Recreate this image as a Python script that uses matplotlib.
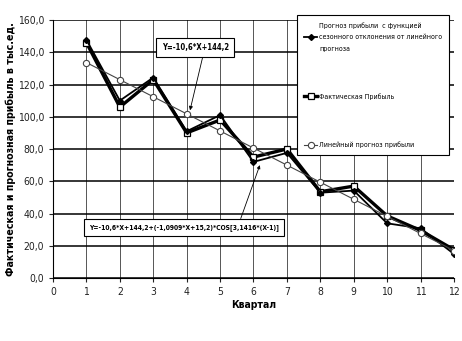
import matplotlib
matplotlib.use("Agg")
from matplotlib import pyplot as plt
from matplotlib.ticker import FuncFormatter

plt.rcParams['font.family'] = ['DejaVu Sans']
plt.rcParams['font.stretch'] = 'condensed'

quarters = [1, 2, 3, 4, 5, 6, 7, 8, 9, 10, 11, 12]
seasonal = [147.7, 110.0, 124.3, 91.0, 101.0, 72.0, 77.6, 52.9, 54.2, 33.9, 30.8, 14.9]
actual = [146.0, 106.0, 123.0, 90.0, 98.0, 75.0, 80.0, 53.5, 57.0, 38.5, 29.5, 17.5]
linear = [133.6, 123.0, 112.4, 101.8, 91.2, 80.6, 70.0, 59.4, 48.8, 38.2, 27.6, 17.0]

lbl_seasonal = "Прогноз прибыли  с функцией\nсезонного отклонения от линейного\nпрогноза"
lbl_actual = "Фактическая Прибыль"
lbl_linear = "Линейный прогноз прибыли"
eq_linear = "Y=-10,6*X+144,2"
eq_seasonal = "Y=-10,6*X+144,2+(-1,0909*X+15,2)*COS[3,1416*(X-1)]"

W, H = 462, 341
fig = plt.figure(figsize=(W / 100, H / 100), dpi=100)
ax = fig.add_axes([53 / W, 1 - 278 / H, (454 - 53) / W, (278 - 20) / H])

ax.plot(quarters, seasonal, color="black", lw=1.3, marker="D", ms=3.0,
        mfc="black", mec="black", label=lbl_seasonal, zorder=4)
ax.plot(quarters, actual, color="black", lw=2.4, marker="s", ms=4.5,
        mfc="white", mec="black", mew=0.9, label=lbl_actual, zorder=3)
ax.plot(quarters, linear, color="#444444", lw=0.8, marker="o", ms=4.5,
        mfc="white", mec="#444444", mew=0.8, label=lbl_linear, zorder=5)

ax.set_xlim(0, 12)
ax.set_ylim(0, 160)
ax.set_xticks(range(0, 13))
ax.set_yticks(range(0, 161, 20))
ax.yaxis.set_major_formatter(FuncFormatter(lambda v, p: f"{v:.1f}".replace(".", ",")))
ax.grid(True, axis="y", color="black", lw=1.1)
ax.grid(True, axis="x", color="#555555", lw=0.7)
ax.set_axisbelow(True)
for s in ax.spines.values():
    s.set_visible(False)
ax.spines["left"].set_visible(True)
ax.spines["bottom"].set_visible(True)
ax.tick_params(labelsize=7.5, length=3, direction="out", colors="#222222")

ax.set_xlabel("Квартал", fontsize=7.5, fontweight="bold", labelpad=2)
ax.set_ylabel("Фактическая и прогнозная прибыль в тыс.ед.", fontsize=7.7,
              fontweight="bold", labelpad=1)

leg = ax.legend(loc="upper left", bbox_to_anchor=(297 / W, 1 - 15 / H),
                bbox_transform=fig.transFigure, fontsize=5.0, frameon=True,
                fancybox=False, edgecolor="black", framealpha=1,
                handlelength=1.9, handletextpad=0.3, labelspacing=6.0,
                borderpad=1.0, borderaxespad=0)
for t in leg.get_texts():
    t.set_linespacing(2.1)
leg.get_frame().set_linewidth(0.8)
leg.set_zorder(10)

box = dict(boxstyle="square,pad=0.7", fc="white", ec="black", lw=0.8)
ax.annotate(eq_linear, xy=(4.1, 104), xytext=(3.25, 143), fontsize=5.5,
            fontweight="bold", bbox=box, va="center", ha="left",
            arrowprops=dict(arrowstyle="-|>", color="black", lw=0.6,
                            shrinkA=0, shrinkB=0, relpos=(0.63, 0)),
            zorder=8)
box2 = dict(boxstyle="square,pad=0.75", fc="white", ec="black", lw=0.8)
ax.annotate(eq_seasonal, xy=(6.19, 70), xytext=(1.07, 31.3), fontsize=4.9,
            fontweight="bold", bbox=box2, va="center", ha="left",
            arrowprops=dict(arrowstyle="-|>", color="black", lw=0.6,
                            shrinkA=0, shrinkB=0, relpos=(0.79, 1)),
            zorder=8)

fig.savefig("out.png", dpi=100)
